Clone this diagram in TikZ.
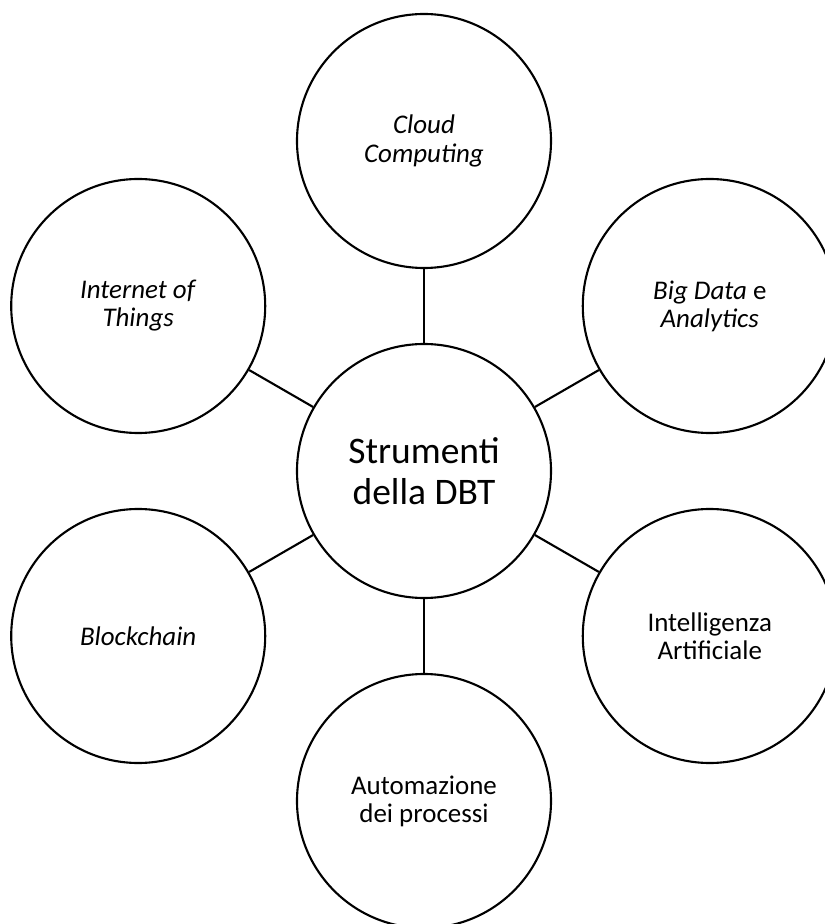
\documentclass[tikz,border=0pt]{standalone}
\usepackage{fontspec}
\setmainfont{Carlito}
\begin{document}
\begin{tikzpicture}[
  bubble/.style={draw,circle,line width=1.8pt,minimum size=7.62cm,inner sep=0pt,align=center,
    font=\fontsize{23}{24}\selectfont},
  link/.style={line width=1.8pt}]
\useasboundingbox (-12.72,-13.59) rectangle (12.03,14.13);
\clip (-12.72,-13.59) rectangle (12.03,14.13);
\node[bubble,font=\fontsize{32}{35}\selectfont] (dbt) at (0,0) {Strumenti\\della DBT};
\node[bubble] (cloud) at (90:9.9) {\textit{Cloud}\\\textit{Computing}};
\node[bubble] (bigdata) at (30:9.9) {\textit{Big Data} e\\\textit{Analytics}};
\node[bubble] (ia) at (-30:9.9) {Intelligenza\\Artificiale};
\node[bubble] (auto) at (-90:9.9) {Automazione\\dei processi};
\node[bubble] (block) at (210:9.9) {\textit{Blockchain}};
\node[bubble] (iot) at (150:9.9) {\textit{Internet of}\\\textit{Things}};
\foreach \n in {cloud,bigdata,ia,auto,block,iot}{
	\draw[link] (dbt)--(\n);}
\end{tikzpicture}
\end{document}
